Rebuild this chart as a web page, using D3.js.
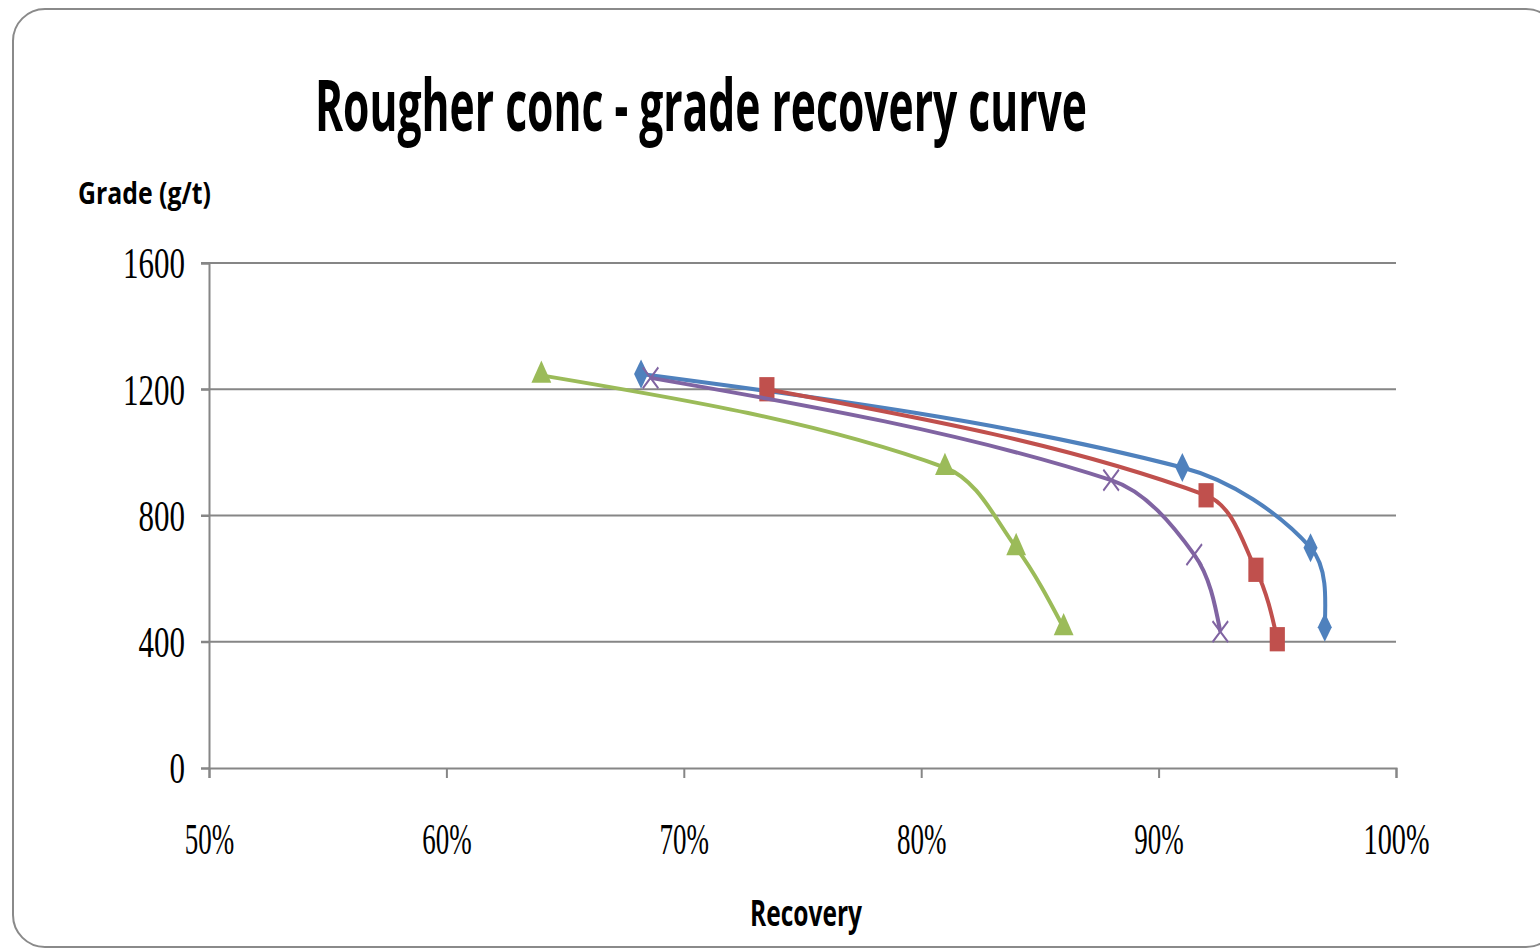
<!DOCTYPE html>
<html>
<head>
<meta charset="utf-8">
<script src="https://cdn.jsdelivr.net/npm/d3@7"></script>
<style>
  body { margin: 0; background: #fff; }
</style>
</head>
<body>
<div id="chart"></div>
<script>
// chart size - fixed, same as the screenshot
var width = 1540,
    height = 950;

// data (recovery in %, grade in g/t)
var seriesNames = ['Series1', 'Series2', 'Series3', 'Series4'];
var seriesColors = ['#4F81BD', '#C0504D', '#9BBB59', '#8064A2'];
var blueRecovery = [68.2, 91.0, 96.4, 97.0];
var blueGrade = [1248, 952, 698, 446];
var redRecovery = [73.5, 92.0, 94.1, 95.0];
var redGrade = [1200, 864, 628, 408];
var greenRecovery = [64.0, 81.0, 84.0, 86.0];
var greenGrade = [1244, 952, 698, 444];
var purpleRecovery = [68.6, 88.0, 91.5, 92.6];
var purpleGrade = [1236, 912, 676, 432];

var xTicks = [50, 60, 70, 80, 90, 100];
var yTicks = [0, 400, 800, 1200, 1600];

var series = [
  { name: seriesNames[0], color: seriesColors[0], marker: 'diamond', x: blueRecovery, y: blueGrade },
  { name: seriesNames[1], color: seriesColors[1], marker: 'square', x: redRecovery, y: redGrade },
  { name: seriesNames[2], color: seriesColors[2], marker: 'triangle', x: greenRecovery, y: greenGrade },
  { name: seriesNames[3], color: seriesColors[3], marker: 'x', x: purpleRecovery, y: purpleGrade }
];

// plot area edges (don't call it "top", that's window.top)
var plotLeft = 209, plotRight = 1396, plotTop = 263, plotBottom = 768;

var x = d3.scaleLinear().domain([50, 100]).range([plotLeft, plotRight]);
var y = d3.scaleLinear().domain([0, 1600]).range([plotBottom, plotTop]);

var svg = d3.select('#chart')
            .append('svg')
            .attr('width', width)
            .attr('height', height);

// rounded chart border, the right side runs off the picture
svg.append('rect')
   .attr('x', 13).attr('y', 9)
   .attr('width', 1545).attr('height', 938)
   .attr('rx', 32).attr('ry', 32)
   .style('fill', '#fff')
   .style('stroke', '#8a8a8a')
   .style('stroke-width', 2);

// title
svg.append('text')
   .attr('x', 315).attr('y', 131)
   .attr('textLength', 772)
   .attr('lengthAdjust', 'spacingAndGlyphs')
   .style('font-family', 'Open Sans')
   .style('font-weight', 'bold')
   .style('font-size', '72px')
   .text('Rougher conc - grade recovery curve');

// horizontal gridlines (not at 0, the axis is there)
svg.append('g')
   .selectAll('line')
   .data(yTicks.filter(function(d) { return d > 0; }))
   .enter()
   .append('line')
   .attr('x1', plotLeft - 8).attr('x2', plotRight)
   .attr('y1', function(d) { return y(d); })
   .attr('y2', function(d) { return y(d); })
   .style('stroke', '#868686')
   .style('stroke-width', 2);

// y axis
var yAxis = svg.append('g')
   .attr('transform', 'translate(' + plotLeft + ',0)')
   .call(d3.axisLeft(y).tickValues(yTicks).tickSize(8).tickPadding(16)
           .tickFormat(d3.format('d')));
yAxis.select('.domain').style('stroke', '#868686').style('stroke-width', 2);
yAxis.selectAll('.tick line').style('stroke', '#868686').style('stroke-width', 2);
yAxis.selectAll('.tick text')
     .style('font-family', 'Liberation Serif')
     .style('font-size', '44px')
     .style('fill', '#000')
     .attr('dy', '0.34em')
     .attr('textLength', function(d) { return String(d).length * 15.5; })
     .attr('lengthAdjust', 'spacingAndGlyphs');

// x axis
var xAxis = svg.append('g')
   .attr('transform', 'translate(0,' + plotBottom + ')')
   .call(d3.axisBottom(x).tickValues(xTicks).tickSize(10).tickPadding(18)
           .tickFormat(function(d) { return d + '%'; }));
xAxis.select('.domain').style('stroke', '#868686').style('stroke-width', 2);
xAxis.selectAll('.tick line').style('stroke', '#868686').style('stroke-width', 2);
xAxis.selectAll('.tick text')
     .style('font-family', 'Liberation Serif')
     .style('font-size', '44px')
     .style('fill', '#000')
     .attr('y', 86)
     .attr('dy', 0)
     .attr('textLength', function(d) { return (String(d).length + 1) * 16.5; })
     .attr('lengthAdjust', 'spacingAndGlyphs');

// axis titles
svg.append('text')
   .attr('x', 78).attr('y', 204)
   .attr('textLength', 133)
   .attr('lengthAdjust', 'spacingAndGlyphs')
   .style('font-family', 'Open Sans')
   .style('font-weight', 'bold')
   .style('font-size', '31px')
   .text('Grade (g/t)');

svg.append('text')
   .attr('x', 750).attr('y', 926)
   .attr('textLength', 112)
   .attr('lengthAdjust', 'spacingAndGlyphs')
   .style('font-family', 'Open Sans')
   .style('font-weight', 'bold')
   .style('font-size', '36px')
   .text('Recovery');

// excel style smoothing: tangent through the neighbours, handle length
// scaled by each side's segment length so short segments don't kink
function smoothPath(pts) {
  var p = d3.path();
  var n = pts.length;
  var dist = function(a, b) { return Math.hypot(b[0] - a[0], b[1] - a[1]); };
  var cin = [], cout = [];
  for (var i = 1; i < n - 1; i++) {
    var tx = pts[i + 1][0] - pts[i - 1][0],
        ty = pts[i + 1][1] - pts[i - 1][1];
    var d0 = dist(pts[i - 1], pts[i]), d1 = dist(pts[i], pts[i + 1]);
    var k0 = d0 / (d0 + d1) / 3,
        k1 = d1 / (d0 + d1) / 3;
    cin[i] = [pts[i][0] - tx * k0, pts[i][1] - ty * k0];
    cout[i] = [pts[i][0] + tx * k1, pts[i][1] + ty * k1];
  }
  // ends: aim halfway at the neighbour's handle
  cout[0] = [(pts[0][0] + cin[1][0]) / 2, (pts[0][1] + cin[1][1]) / 2];
  cin[n - 1] = [(pts[n - 1][0] + cout[n - 2][0]) / 2, (pts[n - 1][1] + cout[n - 2][1]) / 2];

  p.moveTo(pts[0][0], pts[0][1]);
  for (var j = 1; j < n; j++) {
    p.bezierCurveTo(cout[j - 1][0], cout[j - 1][1], cin[j][0], cin[j][1], pts[j][0], pts[j][1]);
  }
  return p.toString();
}

var symbolTypes = {
  diamond: d3.symbolDiamond,
  square: d3.symbolSquare,
  triangle: d3.symbolTriangle,
  x: d3.symbolTimes || d3.symbolX
};
var symbolSizes = { diamond: 170, square: 230, triangle: 170, x: 160 };
var symbolStretch = { diamond: 1.2, square: 1.6, triangle: 1.3, x: 1.35 };

series.forEach(function(s) {
  var pts = s.x.map(function(v, i) { return [v, s.y[i]]; });
  var px = pts.map(function(d) { return [x(d[0]), y(d[1])]; });

  svg.append('path')
     .attr('d', smoothPath(px))
     .style('fill', 'none')
     .style('stroke', s.color)
     .style('stroke-width', 4)
     .style('stroke-linejoin', 'round');

  svg.append('g')
     .selectAll('path')
     .data(pts)
     .enter()
     .append('path')
     .attr('d', d3.symbol().type(symbolTypes[s.marker]).size(symbolSizes[s.marker]))
     .attr('transform', function(d) {
       return 'translate(' + x(d[0]) + ',' + y(d[1]) + ') scale(1,' + symbolStretch[s.marker] + ')';
     })
     .style('fill', s.marker === 'x' ? 'none' : s.color)
     .style('stroke', s.color)
     .style('stroke-width', s.marker === 'x' ? 1.8 : 0);
});
</script>
</body>
</html>
